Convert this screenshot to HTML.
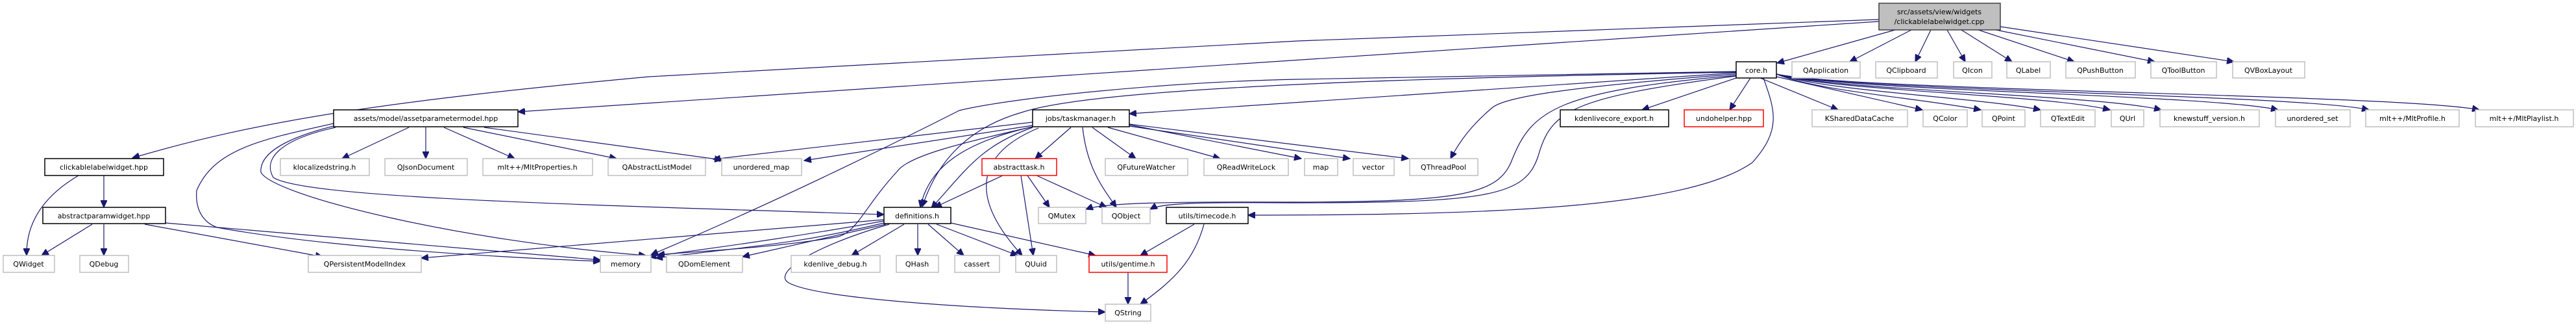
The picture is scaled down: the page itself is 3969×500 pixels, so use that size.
<!DOCTYPE html>
<html><head><meta charset="utf-8"><style>
html,body{margin:0;padding:0;background:#fff;}
svg{display:block;}
text{font-family:"DejaVu Sans","Liberation Sans",sans-serif;font-size:11px;fill:#000;text-anchor:middle;}
.g{fill:#fff;stroke:#bfbfbf;stroke-width:1.5}
.b{fill:#fff;stroke:#000;stroke-width:1.5}
.r{fill:#fff;stroke:#ff0000;stroke-width:1.5}
path{fill:none;stroke:#191970;stroke-width:1.2}
</style></head><body>
<svg width="3969" height="500" viewBox="0 0 3969 500" xmlns="http://www.w3.org/2000/svg">
<defs><marker id="a" markerUnits="userSpaceOnUse" markerWidth="12" markerHeight="10" refX="11" refY="5" orient="auto"><path d="M0,0 L11,5 L0,10 Z" style="fill:#191970;stroke:#191970"/></marker></defs>
<g marker-end="url(#a)">
<!-- root edges -->
<path d="M2895,30 L2000,63 L1000,118 C600,155 400,185 204,243"/>
<path d="M2895,33 L798,172"/>
<path d="M2920,46 L2738,97"/>
<path d="M2945,46 L2850,95"/>
<path d="M2975,46 L2951,95"/>
<path d="M3000,46 L3028,95"/>
<path d="M3022,46 L3100,95"/>
<path d="M3048,46 L3196,95"/>
<path d="M3075,46 L3320,95"/>
<path d="M3082,41 L3442,95"/>
<!-- core edges -->
<path d="M2675,112 L1740,175"/>
<path d="M2675,110 L2000,122 C1800,126 1560,150 1478,170 C1300,260 1150,330 1003,392"/>
<path d="M2675,111 C2300,118 1700,130 1574,173 C1480,200 1440,260 1421,318"/>
<path d="M2675,114 C2400,135 2320,150 2300,165 C2270,190 2250,215 2235,244"/>
<path d="M2675,116 C2400,140 2360,170 2330,245 C2310,300 2250,310 2000,311 C1800,310 1700,312 1673,322"/>
<path d="M2675,117 C2420,150 2390,170 2370,240 C2350,300 2300,312 2000,312 C1850,311 1790,312 1772,322"/>
<path d="M2717,120 C2735,170 2745,200 2700,250 C2600,320 2300,331 1923,331"/>
<path d="M2675,120 L2530,169"/>
<path d="M2697,120 L2665,169"/>
<path d="M2712,120 L2832,169"/>
<path d="M2737,118 L2962,169"/>
<path d="M2737,114 C2800,140 2950,150 3052,169"/>
<path d="M2737,114 C2810,140 3050,150 3144,169"/>
<path d="M2737,114 C2820,140 3150,145 3251,169"/>
<path d="M2737,114 C2830,140 3230,145 3330,169"/>
<path d="M2737,114 C2840,140 3400,145 3510,169"/>
<path d="M2737,114 C2850,140 3540,145 3650,169"/>
<path d="M2737,114 C2860,140 3700,145 3820,169"/>
<!-- asset edges -->
<path d="M630,196 L527,244"/>
<path d="M656,196 L656,244"/>
<path d="M684,196 L793,244"/>
<path d="M714,196 L950,244"/>
<path d="M746,196 L1112,246"/>
<path d="M514,194 C430,215 400,240 402,265 C420,300 700,370 995,393"/>
<path d="M514,190 C400,215 330,230 303,293 C300,330 320,345 335,350 C500,380 750,395 925,402"/>
<path d="M517,196 C430,215 405,245 421,273 C470,305 900,315 1362,330"/>
<!-- clickable / abstractparam -->
<path d="M121,270 C70,300 40,340 41,393"/>
<path d="M160,270 L160,319"/>
<path d="M142,345 L64,393"/>
<path d="M160,345 L160,393"/>
<path d="M223,345 L497,395"/>
<path d="M255,343 L925,400"/>
<!-- taskmanager edges -->
<path d="M1591,188 L1099,245"/>
<path d="M1591,193 L1239,247"/>
<path d="M1650,196 L1595,244"/>
<path d="M1591,195 C1480,220 1430,260 1418,319"/>
<path d="M1591,196 C1510,225 1490,260 1435,320"/>
<path d="M1600,197 C1520,230 1480,290 1575,393"/>
<path d="M1668,196 C1675,260 1700,290 1720,319"/>
<path d="M1683,196 L1750,244"/>
<path d="M1707,196 L1880,244"/>
<path d="M1740,192 L2005,244"/>
<path d="M1740,194 L2080,244"/>
<path d="M1740,191 L2170,244"/>
<path d="M1591,195 C1480,220 1400,240 1383,263 C1330,320 1320,360 1287,365 C1200,380 1100,385 1013,392"/>
<!-- abstracttask -->
<path d="M1545,270 L1440,319"/>
<path d="M1583,270 L1617,319"/>
<path d="M1597,270 L1705,319"/>
<path d="M1573,270 L1592,393"/>
<!-- definitions -->
<path d="M1362,338 L649,397"/>
<path d="M1362,340 C1250,360 1150,375 1000,395"/>
<path d="M1362,343 C1250,370 1200,375 1010,397"/>
<path d="M1365,345 L1144,395"/>
<path d="M1393,345 L1312,393"/>
<path d="M1414,345 L1414,393"/>
<path d="M1430,345 L1485,393"/>
<path d="M1443,345 L1568,393"/>
<path d="M1465,343 L1688,393"/>
<path d="M1370,345 C1250,380 1190,420 1215,435 C1260,460 1500,475 1703,480"/>
<!-- timecode / gentime -->
<path d="M1840,345 L1757,393"/>
<path d="M1855,345 C1840,400 1810,430 1757,468"/>
<path d="M1738,419 L1738,468"/>
</g>
<!-- nodes -->
<rect x="2895" y="5" width="187" height="41" style="fill:#bfbfbf;stroke:#404040;stroke-width:1.5"/>
<text x="2988" y="22">src/assets/view/widgets</text><text x="2988" y="37">/clickablelabelwidget.cpp</text>
<rect class="b" x="2675" y="95" width="62" height="25"/><text x="2706" y="112">core.h</text>
<rect class="g" x="2761" y="95" width="105" height="25"/><text x="2813" y="112">QApplication</text>
<rect class="g" x="2890" y="95" width="95" height="25"/><text x="2937" y="112">QClipboard</text>
<rect class="g" x="3010" y="95" width="59" height="25"/><text x="3039" y="112">QIcon</text>
<rect class="g" x="3092" y="95" width="67" height="25"/><text x="3125" y="112">QLabel</text>
<rect class="g" x="3183" y="95" width="107" height="25"/><text x="3236" y="112">QPushButton</text>
<rect class="g" x="3314" y="95" width="101" height="25"/><text x="3364" y="112">QToolButton</text>
<rect class="g" x="3440" y="95" width="111" height="25"/><text x="3495" y="112">QVBoxLayout</text>

<rect class="b" x="514" y="169" width="284" height="26"/><text x="656" y="186">assets/model/assetparametermodel.hpp</text>
<rect class="b" x="1591" y="169" width="149" height="26"/><text x="1665" y="186">jobs/taskmanager.h</text>
<rect class="b" x="2404" y="169" width="167" height="26"/><text x="2487" y="186">kdenlivecore_export.h</text>
<rect class="r" x="2595" y="169" width="122" height="26"/><text x="2656" y="186">undohelper.hpp</text>
<rect class="g" x="2792" y="169" width="147" height="26"/><text x="2865" y="186">KSharedDataCache</text>
<rect class="g" x="2963" y="169" width="68" height="26"/><text x="2997" y="186">QColor</text>
<rect class="g" x="3054" y="169" width="66" height="26"/><text x="3087" y="186">QPoint</text>
<rect class="g" x="3144" y="169" width="84" height="26"/><text x="3186" y="186">QTextEdit</text>
<rect class="g" x="3253" y="169" width="50" height="26"/><text x="3278" y="186">QUrl</text>
<rect class="g" x="3328" y="169" width="153" height="26"/><text x="3404" y="186">knewstuff_version.h</text>
<rect class="g" x="3506" y="169" width="115" height="26"/><text x="3563" y="186">unordered_set</text>
<rect class="g" x="3645" y="169" width="144" height="26"/><text x="3717" y="186">mlt++/MltProfile.h</text>
<rect class="g" x="3814" y="169" width="151" height="26"/><text x="3889" y="186">mlt++/MltPlaylist.h</text>

<rect class="b" x="69" y="244" width="183" height="26"/><text x="160" y="261">clickablelabelwidget.hpp</text>
<rect class="g" x="432" y="244" width="137" height="26"/><text x="500" y="261">klocalizedstring.h</text>
<rect class="g" x="593" y="244" width="127" height="26"/><text x="656" y="261">QJsonDocument</text>
<rect class="g" x="744" y="244" width="169" height="26"/><text x="828" y="261">mlt++/MltProperties.h</text>
<rect class="g" x="937" y="244" width="150" height="26"/><text x="1012" y="261">QAbstractListModel</text>
<rect class="g" x="1112" y="244" width="123" height="26"/><text x="1173" y="261">unordered_map</text>
<rect class="r" x="1513" y="244" width="115" height="26"/><text x="1570" y="261">abstracttask.h</text>
<rect class="g" x="1703" y="244" width="127" height="26"/><text x="1766" y="261">QFutureWatcher</text>
<rect class="g" x="1855" y="244" width="130" height="26"/><text x="1920" y="261">QReadWriteLock</text>
<rect class="g" x="2010" y="244" width="51" height="26"/><text x="2035" y="261">map</text>
<rect class="g" x="2085" y="244" width="63" height="26"/><text x="2116" y="261">vector</text>
<rect class="g" x="2172" y="244" width="105" height="26"/><text x="2224" y="261">QThreadPool</text>

<rect class="b" x="66" y="319" width="189" height="25"/><text x="160" y="336">abstractparamwidget.hpp</text>
<rect class="b" x="1362" y="319" width="103" height="25"/><text x="1413" y="336">definitions.h</text>
<rect class="g" x="1600" y="319" width="73" height="25"/><text x="1636" y="336">QMutex</text>
<rect class="g" x="1698" y="319" width="74" height="25"/><text x="1735" y="336">QObject</text>
<rect class="b" x="1797" y="319" width="126" height="25"/><text x="1860" y="336">utils/timecode.h</text>

<rect class="g" x="5" y="393" width="79" height="26"/><text x="44" y="410">QWidget</text>
<rect class="g" x="123" y="393" width="75" height="26"/><text x="160" y="410">QDebug</text>
<rect class="g" x="475" y="393" width="174" height="26"/><text x="562" y="410">QPersistentModelIndex</text>
<rect class="g" x="925" y="393" width="78" height="26"/><text x="964" y="410">memory</text>
<rect class="g" x="1027" y="393" width="117" height="26"/><text x="1085" y="410">QDomElement</text>
<rect class="g" x="1219" y="393" width="137" height="26"/><text x="1287" y="410">kdenlive_debug.h</text>
<rect class="g" x="1381" y="393" width="65" height="26"/><text x="1413" y="410">QHash</text>
<rect class="g" x="1471" y="393" width="69" height="26"/><text x="1505" y="410">cassert</text>
<rect class="g" x="1565" y="393" width="63" height="26"/><text x="1596" y="410">QUuid</text>
<rect class="r" x="1678" y="393" width="120" height="26"/><text x="1738" y="410">utils/gentime.h</text>
<rect class="g" x="1703" y="468" width="70" height="26"/><text x="1738" y="485">QString</text>
</svg>
</body></html>
